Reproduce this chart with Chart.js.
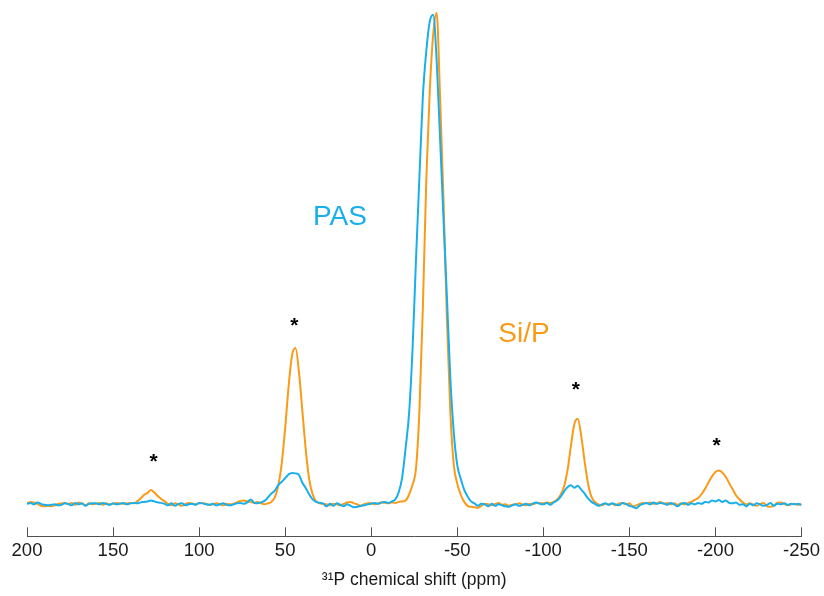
<!DOCTYPE html>
<html>
<head>
<meta charset="utf-8">
<title>31P NMR</title>
<script src="https://cdn.jsdelivr.net/npm/chart.js@4.4.1/dist/chart.umd.min.js"></script>
<style>
  html, body { margin: 0; padding: 0; background: #fff; }
  #wrap { width: 824px; height: 596px; }
</style>
</head>
<body>
<div id="wrap"><canvas id="grafico" width="824" height="596"></canvas></div>
<script>
// Eixo de deslocamento químico: 200 a -250 ppm, passo de 2 ppm
const inicioPpm = 200;
const passoPpm = -2;
const nPontos = 226;

// Rótulos do eixo x
const ticksX = [200, 150, 100, 50, 0, -50, -100, -150, -200, -250];

// Série PAS (azul), unidade arbitrária
const pas = [
  0.1, 0.3, 0.0, 0.4, 0.1, -0.1, -0.2, -0.1, 0.0, -0.2,      // 200..182
  -0.1, 0.2, 0.1, -0.2, 0.3, 0.0, 0.2, -0.3, 0.1, 0.2,       // 180..162
  0.2, 0.0, 0.3, 0.1, -0.1, 0.2, 0.0, 0.1, 0.3, 0.0,         // 160..142
  0.2, 0.3, 0.2, 0.4, 0.5, 0.6, 0.8, 0.6, 0.4, 0.3,          // 140..122
  0.1, -0.2, 0.2, -0.3, 0.1, 0.2, -0.2, 0.0, 0.1, -0.1,      // 120..102
  0.3, 0.2, 0.0, -0.1, 0.1, -0.2, 0.0, 0.2, -0.1, -0.2,      // 100..82
  0.0, 0.2, 0.3, 0.1, 0.4, 1.0, 0.3, 0.2, 0.4, 0.7,          // 80..62
  1.4, 2.2, 2.8, 3.9, 4.6, 5.3, 6.1, 6.4, 6.3, 6.0,          // 60..42
  4.4, 3.3, 2.0, 1.0, 0.5, 0.3, 0.2, -0.4, 0.1, -0.3,        // 40..22
  0.2, -0.1, -0.4, 0.0, -0.3, -0.6, -0.5, -0.3, -0.2, 0.0,   // 20..2
  0.1, 0.3, 0.1, 0.4, 0.5, 0.3, 0.6, 1.0, 2.5, 5.5,          // 0..-18
  11.5, 18.5, 31.5, 49.6, 66.5, 83.0, 92.2, 98.2, 99.6, 90.5, // -20..-38
  74.5, 58.0, 42.0, 25.5, 14.5, 8.0, 5.2, 3.0, 1.6, 0.6,     // -40..-58
  0.2, -0.3, 0.1, 0.0, -0.4, 0.1, -0.3, 0.0, -0.2, -0.4,     // -60..-78
  -0.5, -0.2, 0.0, -0.3, -0.1, 0.1, -0.2, 0.2, 0.4, 0.1,     // -80..-98
  0.0, 0.3, -0.1, 0.4, 0.8, 1.5, 2.6, 3.5, 3.9, 3.4,         // -100..-118
  3.8, 3.0, 2.2, 1.2, 0.5, 0.1, -0.3, 0.0, 0.2, -0.1,        // -120..-138
  0.2, 0.0, -0.2, 0.3, 0.1, -0.3, -0.5, -0.8, -0.2, 0.1,     // -140..-158
  0.3, 0.0, 0.4, 0.1, 0.3, 0.2, -0.1, 0.3, 0.0, -0.4,        // -160..-178
  0.1, 0.3, -0.1, 0.2, 0.0, 0.3, 0.1, 0.5, 0.4, 0.8,         // -180..-198
  0.6, 0.9, 0.5, 0.8, 0.3, 0.2, 0.4, -0.1, 0.0, -0.4,        // -200..-218
  0.1, -0.2, 0.2, 0.0, -0.3, -0.1, 0.3, -0.3, 0.1, 0.0,      // -220..-238
  0.2, -0.1, 0.1, 0.0, 0.1, -0.1                             // -240..-250
];

// Série Si/P (laranja)
const siP = [
  0.2, 0.5, 0.4, 0.1, -0.3, -0.4, -0.3, -0.4, -0.2, 0.1,     // 200..182
  0.2, 0.3, 0.0, 0.3, -0.1, 0.4, 0.1, -0.2, 0.2, 0.0,        // 180..162
  0.1, 0.3, -0.1, 0.2, 0.0, 0.1, 0.3, 0.2, 0.1, 0.2,         // 160..142
  0.3, 0.2, 0.6, 1.2, 1.9, 2.3, 2.9, 2.4, 1.7, 1.1,          // 140..122
  0.6, 0.1, -0.2, 0.2, 0.0, -0.3, 0.1, 0.3, 0.2, 0.0,        // 120..102
  0.2, 0.3, 0.1, -0.1, 0.0, 0.2, 0.1, -0.2, 0.1, 0.0,        // 100..82
  0.1, 0.4, 0.7, 0.8, 0.6, 0.5, 0.3, 0.5, 0.2, 0.0,          // 80..62
  0.2, 0.5, 1.4, 3.8, 8.3, 15.5, 24.0, 30.3, 31.8, 27.0,     // 60..42
  19.0, 11.0, 5.0, 2.0, 0.6, 0.2, 0.1, 0.0, -0.2, 0.1,       // 40..22
  0.0, -0.2, 0.1, 0.4, 0.5, 0.2, 0.0, -0.3, 0.1, 0.2,        // 20..2
  0.3, 0.0, 0.2, 0.4, 0.3, 0.2, 0.4, 0.3, 0.5, 0.6,          // 0..-18
  0.8, 2.0, 4.0, 7.3, 19.0, 40.0, 66.0, 84.0, 95.5, 100.0,   // -20..-38
  83.0, 62.0, 37.5, 18.5, 8.0, 4.2, 2.0, 0.5, -0.3, -0.5,    // -40..-58
  -0.6, -0.7, -0.3, 0.1, 0.0, -0.2, 0.1, 0.3, -0.1, 0.0,     // -60..-78
  -0.3, -0.1, 0.0, 0.2, 0.0, -0.2, 0.1, 0.0, 0.3, 0.2,       // -80..-98
  0.2, 0.4, 0.3, 0.5, 1.0, 1.9, 3.6, 6.8, 11.8, 16.3,        // -100..-118
  17.4, 14.0, 8.7, 4.2, 1.5, 0.5, 0.0, -0.2, 0.1, 0.0,       // -120..-138
  0.1, -0.2, 0.2, 0.3, 0.0, 0.2, -0.4, -0.2, 0.1, 0.3,       // -140..-158
  0.2, 0.4, 0.1, 0.2, 0.5, 0.1, 0.3, 0.0, 0.2, -0.1,         // -160..-178
  0.2, 0.0, 0.3, 0.5, 0.9, 1.3, 2.1, 3.2, 4.5, 5.7,          // -180..-198
  6.6, 6.9, 6.5, 5.6, 4.3, 3.1, 1.8, 1.0, 0.4, 0.0,          // -200..-218
  0.2, 0.0, -0.3, 0.1, 0.3, -0.4, -0.5, -0.2, 0.3, 0.4,      // -220..-238
  0.1, -0.2, 0.0, 0.1, -0.1, 0.0                             // -240..-250
];

// Anotações (posição em ppm / intensidade)
const rotulosSerie = [
  { texto: 'PAS', x: 18.2, y: 58.4, cor: '#19AFEA' },
  { texto: 'Si/P', x: -88.8, y: 34.7, cor: '#FA9A19' }
];
const asteriscos = [
  { x: 126.4, y: 9.0 },
  { x: 44.6, y: 36.7 },
  { x: -118.9, y: 23.7 },
  { x: -200.7, y: 12.2 }
];

const fonte = '"Liberation Sans", Arial, sans-serif';
const shift = [];
for (let i = 0; i < nPontos; i++) shift.push(inicioPpm + passoPpm * i);

// Marcas de escala voltadas para dentro + textos
const pluginExtras = {
  id: 'extras',
  afterDraw(chart) {
    const ctx = chart.ctx;
    const sx = chart.scales.x;
    const sy = chart.scales.y;
    ctx.save();
    ctx.strokeStyle = '#505050';
    ctx.lineWidth = 1;
    ticksX.forEach(v => {
      const px = Math.round(sx.getPixelForValue(v)) + 0.5;
      ctx.beginPath();
      ctx.moveTo(px, sx.top);
      ctx.lineTo(px, sx.top - 9);
      ctx.stroke();
    });
    ctx.textAlign = 'center';
    ctx.textBaseline = 'middle';
    ctx.font = '28px ' + fonte;
    rotulosSerie.forEach(r => {
      ctx.fillStyle = r.cor;
      ctx.fillText(r.texto, sx.getPixelForValue(r.x), sy.getPixelForValue(r.y));
    });
    ctx.fillStyle = '#000';
    ctx.font = 'bold 21px ' + fonte;
    ctx.textBaseline = 'alphabetic';
    asteriscos.forEach(a => {
      ctx.fillText('*', sx.getPixelForValue(a.x), sy.getPixelForValue(a.y) + 8);
    });
    ctx.restore();
  }
};

new Chart(document.getElementById('grafico').getContext('2d'), {
  type: 'line',
  data: {
    datasets: [
      {
        label: 'PAS',
        data: shift.map((x, i) => ({ x: x, y: pas[i] })),
        borderColor: '#19AFEA',
        borderWidth: 2
      },
      {
        label: 'Si/P',
        data: shift.map((x, i) => ({ x: x, y: siP[i] })),
        borderColor: '#FA9A19',
        borderWidth: 2
      }
    ]
  },
  options: {
    responsive: false,
    animation: false,
    layout: { padding: { left: 27, right: 20, top: 3, bottom: 0 } },
    elements: {
      point: { radius: 0 },
      line: { cubicInterpolationMode: 'monotone', borderJoinStyle: 'round' }
    },
    plugins: {
      legend: { display: false },
      tooltip: { enabled: false }
    },
    scales: {
      x: {
        type: 'linear',
        reverse: true,
        min: -250,
        max: 200,
        afterBuildTicks: scale => { scale.ticks = ticksX.map(v => ({ value: v })); },
        ticks: {
          font: { family: fonte, size: 18.5 },
          color: '#1a1a1a',
          padding: 4,
          maxRotation: 0
        },
        grid: { display: false, drawTicks: false },
        border: { display: true, color: '#505050', width: 1 },
        title: {
          display: true,
          text: '³¹P chemical shift (ppm)',
          font: { family: fonte, size: 17.5 },
          color: '#1a1a1a',
          padding: { top: 3.5, bottom: 5 }
        }
      },
      y: {
        display: false,
        min: -6.5,
        max: 102
      }
    }
  },
  plugins: [pluginExtras]
});
</script>
</body>
</html>
